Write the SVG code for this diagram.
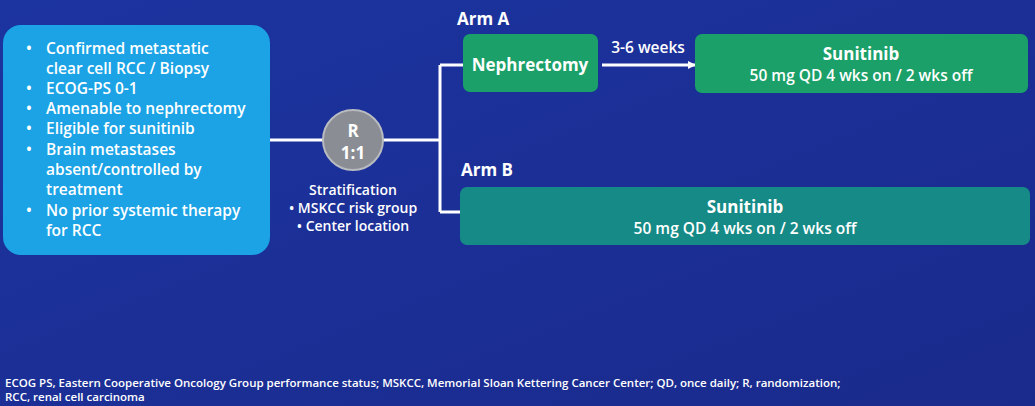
<svg xmlns="http://www.w3.org/2000/svg" width="1035" height="406" viewBox="0 0 1035 406">
<defs>
<linearGradient id="bg" x1="0" y1="0" x2="1" y2="1"><stop offset="0" stop-color="#1c34a0"/><stop offset="1" stop-color="#1a2a8c"/></linearGradient>
<marker id="ah" markerWidth="8" markerHeight="8" refX="7" refY="4" orient="auto" markerUnits="userSpaceOnUse"><path d="M0,0 L8,4 L0,8 z" fill="#fff"/></marker>
</defs>
<style>
text{font-family:"Open Sans","DejaVu Sans",sans-serif;fill:#fff;font-weight:600}
.t{font-size:15.5px}.s{font-size:14px}.b{font-size:17px;font-weight:700}.f{font-size:11.5px;font-weight:600}
.c{stroke:#fff;stroke-width:3;fill:none}
</style>
<rect width="1035" height="406" fill="url(#bg)"/>
<g id="connectors">
<path class="c" d="M268,140 H323 M383,140 H440 M440,65 V212 M440,65 H463 M440,212 H460"/>
<path class="c" d="M602,65 H695" stroke-width="2" marker-end="url(#ah)"/>
</g>
<g id="criteria">
<rect x="3" y="25" width="267" height="230" rx="18" fill="#1ba3e6"/>
<g class="t">
<text x="26" y="54">•</text><text x="46" y="54">Confirmed metastatic</text>
<text x="46" y="74">clear cell RCC / Biopsy</text>
<text x="26" y="94">•</text><text x="46" y="94">ECOG-PS 0-1</text>
<text x="26" y="114">•</text><text x="46" y="114">Amenable to nephrectomy</text>
<text x="26" y="134">•</text><text x="46" y="134">Eligible for sunitinib</text>
<text x="26" y="155">•</text><text x="46" y="155">Brain metastases</text>
<text x="46" y="175">absent/controlled by</text>
<text x="46" y="195">treatment</text>
<text x="26" y="216">•</text><text x="46" y="216">No prior systemic therapy</text>
<text x="46" y="236">for RCC</text>
</g>
</g>
<g id="randomization">
<circle cx="353" cy="140" r="30" fill="#8a8d93" stroke="#b8bbc0" stroke-width="2"/>
<text x="353" y="137" class="b" text-anchor="middle">R</text>
<text x="353" y="159" class="b" text-anchor="middle">1:1</text>
</g>
<g id="stratification" class="s">
<text x="353" y="195" text-anchor="middle">Stratification</text>
<text x="353" y="213" text-anchor="middle">• MSKCC risk group</text>
<text x="353" y="231" text-anchor="middle">• Center location</text>
</g>
<g id="armA">
<text x="457" y="25" class="b">Arm A</text>
<rect x="463" y="34" width="135" height="58" rx="7" fill="#1aa068"/>
<text x="530" y="71" class="b" text-anchor="middle">Nephrectomy</text>
<text x="648" y="53" class="t" text-anchor="middle">3-6 weeks</text>
</g>
<g id="sunitA">
<rect x="695" y="34" width="333" height="59" rx="7" fill="#1aa068"/>
<text x="861" y="60" class="b" text-anchor="middle">Sunitinib</text>
<text x="861" y="81" class="t" text-anchor="middle">50 mg QD 4 wks on / 2 wks off</text>
</g>
<g id="armB">
<text x="461" y="176" class="b">Arm B</text>
<rect x="460" y="187" width="570" height="58" rx="7" fill="#168a86"/>
<text x="745" y="213" class="b" text-anchor="middle">Sunitinib</text>
<text x="745" y="234" class="t" text-anchor="middle">50 mg QD 4 wks on / 2 wks off</text>
</g>
<g id="footnote" class="f">
<text x="5" y="387">ECOG PS, Eastern Cooperative Oncology Group performance status;  MSKCC, Memorial Sloan Kettering Cancer Center; QD, once daily; R, randomization;</text>
<text x="5" y="401">RCC, renal cell carcinoma</text>
</g>
</svg>
